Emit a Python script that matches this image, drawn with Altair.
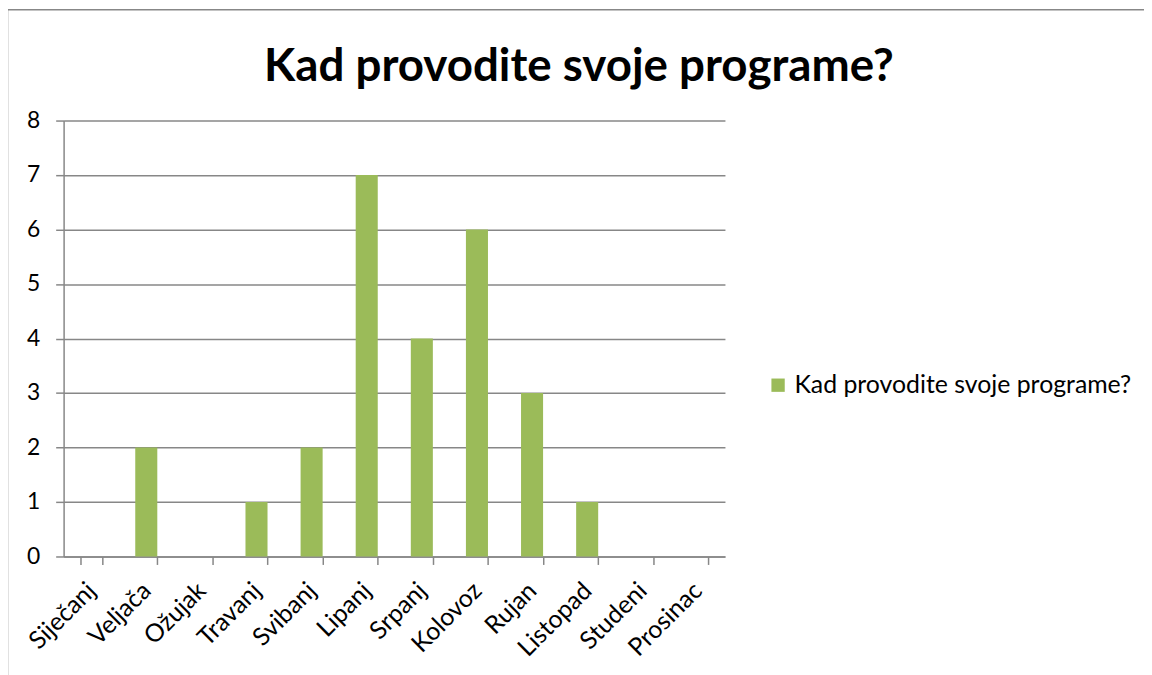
import altair as alt
import pandas as pd

months = ["Siječanj", "Veljača", "Ožujak", "Travanj", "Svibanj", "Lipanj",
          "Srpanj", "Kolovoz", "Rujan", "Listopad", "Studeni", "Prosinac"]
values = [0, 2, 0, 1, 2, 7, 4, 6, 3, 1, 0, 0]
series_name = "Kad provodite svoje programe?"
title_text = "Kad provodite svoje programe?"

df = pd.DataFrame({"month": months, "value": values, "series": series_name})

W, H = 666, 439
PL, PT = 56, 111
PR = 1144 - PL - W
PB = 667 - PT - H

grey = "#878787"
font = "Lato"

frame = alt.Chart(pd.DataFrame({"a": [0]})).mark_rect(
    fill=None, stroke=grey, strokeWidth=1.5
).encode(
    x=alt.value(-PL - 0.5), y=alt.value(-PT - 0.5),
    x2=alt.value(W + PR + 20), y2=alt.value(H + PB + 20)
)

title = alt.Chart(pd.DataFrame({"t": [title_text]})).mark_text(
    font=font, fontSize=46, fontWeight="bold", color="#000000",
    align="center", baseline="alphabetic"
).encode(
    text="t:N", x=alt.value(W / 2 + 186), y=alt.value(-40)
)

bars = alt.Chart(df).mark_bar(color="#9BBB59").encode(
    x=alt.X("month:N", sort=months, title=None,
            scale=alt.Scale(paddingInner=0.6, paddingOuter=0.3),
            axis=alt.Axis(labelAngle=-45, labelAlign="right", labelBaseline="middle",
                          labelFontSize=25, labelFont=font, labelColor="#000000",
                          tickBand="extent", tickSize=8, tickColor=grey, tickWidth=1.5,
                          domainColor=grey, domainWidth=1.5, labelPadding=22,
                          grid=False)),
    y=alt.Y("value:Q", title=None,
            scale=alt.Scale(domain=[0, 8]),
            axis=alt.Axis(values=list(range(0, 9)), labelFontSize=23, labelFont=font,
                          labelColor="#000000", tickSize=8, tickColor=grey, tickWidth=1.5,
                          domainColor=grey, domainWidth=1.5, gridColor=grey, gridWidth=1.5,
                          labelPadding=16)),
    fill=alt.Fill("series:N",
                  scale=alt.Scale(domain=[series_name], range=["#9BBB59"]),
                  legend=alt.Legend(title=None, orient="none", legendX=W + 41, legendY=254,
                                    symbolType="square", symbolSize=180, symbolStrokeWidth=0,
                                    labelFontSize=25, labelFont=font, labelColor="#000000",
                                    labelLimit=500, symbolOpacity=1, labelOffset=4))
)

chart = alt.layer(frame, title, bars).properties(
    width=W, height=H,
    padding={"left": PL, "top": PT, "right": PR, "bottom": PB},
    autosize=alt.AutoSizeParams(type="none")
).configure_view(stroke=None)

chart.save("out.html", embed_options={"renderer": "svg", "actions": False})
